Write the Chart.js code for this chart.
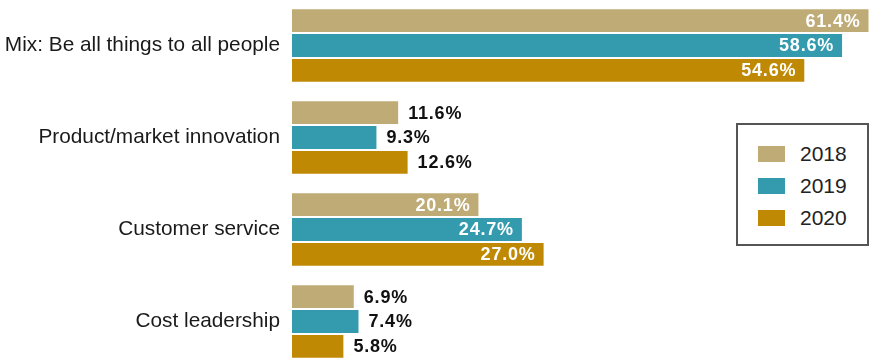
<!DOCTYPE html>
<html>
<head>
<meta charset="utf-8">
<script src="https://cdn.jsdelivr.net/npm/chart.js@4.4.1/dist/chart.umd.min.js"></script>
<style>
  html, body { margin: 0; padding: 0; background: #fff; overflow: hidden; }
  body { width: 877px; height: 361px; position: relative; font-family: "Liberation Sans", Arial, sans-serif; }
  /* canvas extends past the window so the plot area runs edge to edge */
  #wrap { position: absolute; left: 0; top: -25px; width: 877px; height: 417px; }
  #legend {
    position: absolute; left: 736px; top: 123px; width: 129px; height: 119px;
    border: 2px solid #555; background: #fff; padding: 0; box-sizing: content-box;
  }
  .item { position: absolute; left: 20px; height: 22px; display: flex; align-items: center; }
  .swatch { width: 27px; height: 16px; margin-right: 15px; }
  .item span { font-size: 21px; color: #222; }
</style>
</head>
<body>
<div id="wrap"><canvas id="chart"></canvas></div>
<div id="legend"></div>
<script>
// categories and yearly shares (%)
const categories = [
  "Mix: Be all things to all people",
  "Product/market innovation",
  "Customer service",
  "Cost leadership"
];
const years = ["2018", "2019", "2020"];
const values2018 = [61.4, 11.6, 20.1, 6.9];
const values2019 = [58.6, 9.3, 24.7, 7.4];
const values2020 = [54.6, 12.6, 27.0, 5.8];
const colors = ["#BFAB76", "#349AAE", "#BF8904"];

const series = [values2018, values2019, values2020];

// value labels: white inside long bars, black just past short ones
const valueLabels = {
  id: "valueLabels",
  afterDatasetsDraw(chart) {
    const ctx = chart.ctx;
    ctx.save();
    ctx.font = "bold 18px 'Liberation Sans', Arial, sans-serif";
    ctx.letterSpacing = "0.8px";
    ctx.textBaseline = "middle";
    chart.data.datasets.forEach((ds, i) => {
      chart.getDatasetMeta(i).data.forEach((bar, j) => {
        const v = ds.data[j];
        const txt = v.toFixed(1) + "%";
        if (v > 15) {
          ctx.fillStyle = "#fff";
          ctx.textAlign = "right";
          ctx.fillText(txt, bar.x - 8, bar.y + 1);
        } else {
          ctx.fillStyle = "#111";
          ctx.textAlign = "left";
          ctx.fillText(txt, bar.x + 10, bar.y + 1);
        }
      });
    });
    ctx.restore();
  }
};

const chart = new Chart(document.getElementById("chart"), {
  type: "bar",
  data: {
    labels: categories,
    datasets: years.map((y, i) => ({
      label: y,
      data: series[i],
      backgroundColor: colors[i],
      borderWidth: 0,
      categoryPercentage: 0.81,
      barPercentage: 0.92
    }))
  },
  options: {
    indexAxis: "y",
    responsive: true,
    maintainAspectRatio: false,
    animation: false,
    layout: { padding: 0 },
    plugins: {
      legend: { display: false },
      tooltip: { enabled: false }
    },
    scales: {
      x: {
        display: false,
        min: 0.36,
        max: 62.3
      },
      y: {
        grid: { display: false, drawTicks: false },
        border: { display: false },
        ticks: {
          color: "#1a1a1a",
          padding: 12,
          font: { family: "'Liberation Sans', Arial, sans-serif", size: 20.8 }
        },
        afterFit(scale) { scale.width = 292; }
      }
    }
  },
  plugins: [valueLabels]
});

// legend box built from the datasets
const legend = document.getElementById("legend");
chart.data.datasets.forEach((ds, i) => {
  const item = document.createElement("div");
  item.className = "item";
  item.style.top = (18 + i * 32) + "px";
  item.innerHTML = '<div class="swatch" style="background:' + ds.backgroundColor + '"></div><span>' + ds.label + '</span>';
  legend.appendChild(item);
});
</script>
</body>
</html>
